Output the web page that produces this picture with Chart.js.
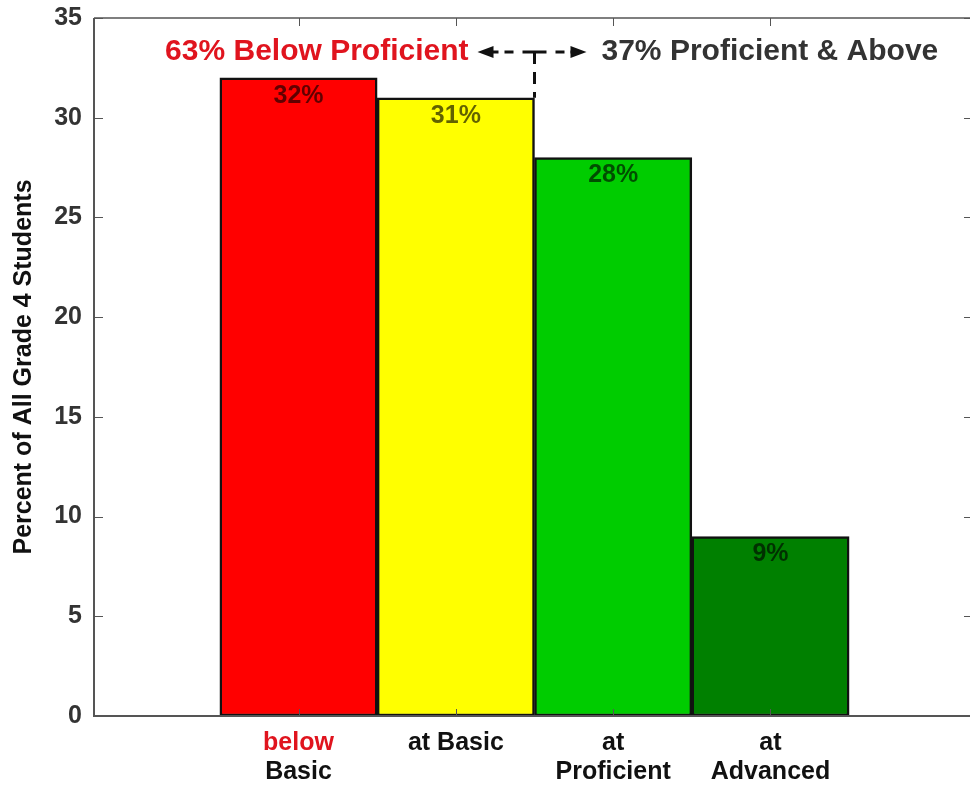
<!DOCTYPE html>
<html>
<head>
<meta charset="utf-8">
<script src="https://cdn.jsdelivr.net/npm/chart.js@4.4.0/dist/chart.umd.min.js"></script>
<style>
  html, body { margin: 0; padding: 0; background: #fff; overflow: hidden; }
  canvas { display: block; }
</style>
</head>
<body>
<canvas id="myChart" width="980" height="786"></canvas>
<script>
// data
const levels = [1, 2, 3, 4];
const percents = [32, 31, 28, 9];
const labelTop = ['below', 'at', 'at', 'at'];
const labelBottom = ['Basic', 'Basic', 'Proficient', 'Advanced'];
const yTicks = [0, 5, 10, 15, 20, 25, 30, 35];
const colors = ['#ff0000', '#ffff00', '#00cc00', '#008000'];

const FONT = '"Liberation Sans", Arial, sans-serif';
const ctx = document.getElementById('myChart');

// tick marks inside the frame + frame itself
const framePlugin = {
  id: 'frame',
  afterDraw(chart) {
    const c = chart.ctx, a = chart.chartArea;
    const x = chart.scales.x, y = chart.scales.y;
    c.save();
    c.strokeStyle = '#555';
    c.lineWidth = 1.5;
    c.beginPath();
    c.moveTo(a.left, a.top); c.lineTo(a.right, a.top);
    c.stroke();
    c.lineWidth = 2;
    c.beginPath();
    c.moveTo(a.left, a.top); c.lineTo(a.left, a.bottom); c.lineTo(a.right, a.bottom);
    c.stroke();
    c.lineWidth = 1;
    c.beginPath();
    yTicks.forEach(v => {
      const py = Math.round(y.getPixelForValue(v)) + 0.5;
      c.moveTo(a.left, py); c.lineTo(a.left + 9, py);
      c.moveTo(970, py); c.lineTo(964, py);
    });
    levels.forEach(v => {
      const px = Math.round(x.getPixelForValue(v)) + 0.5;
      c.moveTo(px, a.bottom); c.lineTo(px, a.bottom - 7);
      c.moveTo(px, a.top); c.lineTo(px, a.top + 8);
    });
    c.stroke();
    c.restore();
  }
};

// category labels under the axis
const catLabels = {
  id: 'catLabels',
  afterDraw(chart) {
    const c = chart.ctx, a = chart.chartArea, x = chart.scales.x;
    c.save();
    c.font = 'bold 25px ' + FONT;
    c.textAlign = 'center';
    c.textBaseline = 'middle';
    levels.forEach((v, i) => {
      const px = x.getPixelForValue(v);
      if (i === 1) {
        c.fillStyle = '#111';
        c.fillText(labelTop[i] + ' ' + labelBottom[i], px, a.bottom + 27);
        return;
      }
      c.fillStyle = i === 0 ? '#e0141e' : '#111';
      c.fillText(labelTop[i], px, a.bottom + 27);
      c.fillStyle = '#111';
      c.fillText(labelBottom[i], px, a.bottom + 56);
    });
    c.restore();
  }
};

// percent labels inside bars
const valueLabels = {
  id: 'valueLabels',
  afterDatasetsDraw(chart) {
    const c = chart.ctx;
    const meta = chart.getDatasetMeta(0);
    c.save();
    c.font = 'bold 25px ' + FONT;
    c.textAlign = 'center';
    c.textBaseline = 'middle';
    c.fillStyle = 'rgba(0,0,0,0.62)';
    meta.data.forEach((bar, i) => {
      c.fillText(percents[i] + '%', bar.x, bar.y + 18);
    });
    c.restore();
  }
};

// proficiency split annotation
const splitNote = {
  id: 'splitNote',
  afterDraw(chart) {
    const c = chart.ctx, x = chart.scales.x, y = chart.scales.y;
    const px = x.getPixelForValue(2.5);
    const py = y.getPixelForValue(33.3);
    const yb = y.getPixelForValue(percents[1]);
    c.save();
    c.font = 'bold 30px ' + FONT;
    c.textBaseline = 'middle';
    c.textAlign = 'right';
    c.fillStyle = '#e0141e';
    c.fillText('63% Below Proficient', px - 66, py);
    c.textAlign = 'left';
    c.fillStyle = '#333';
    c.fillText('37% Proficient & Above', px + 67, py);

    c.strokeStyle = '#111';
    c.fillStyle = '#111';
    c.lineWidth = 3;
    c.setLineDash([12, 8]);
    c.beginPath();
    c.moveTo(px, py); c.lineTo(px, yb);
    c.stroke();
    c.setLineDash([]);
    c.beginPath();
    c.moveTo(px - 12, py); c.lineTo(px + 12, py);
    c.moveTo(px - 21, py); c.lineTo(px - 30, py);
    c.moveTo(px + 21, py); c.lineTo(px + 30, py);
    c.moveTo(px - 36, py); c.lineTo(px - 44, py);
    c.moveTo(px + 36, py); c.lineTo(px + 42, py);
    c.stroke();
    c.beginPath();
    c.moveTo(px - 57, py); c.lineTo(px - 41, py - 6); c.lineTo(px - 41, py + 6); c.closePath();
    c.moveTo(px + 52, py); c.lineTo(px + 36, py - 6); c.lineTo(px + 36, py + 6); c.closePath();
    c.fill();
    c.restore();
  }
};

const chartData = {
  datasets: [{
    data: levels.map((v, i) => ({ x: v, y: percents[i] })),
    backgroundColor: colors,
    borderColor: '#111',
    borderWidth: 2.5,
    borderSkipped: false,
    barPercentage: 1,
    categoryPercentage: 1
  }]
};

new Chart(ctx, {
  type: 'bar',
  data: chartData,
  options: {
    responsive: false,
    animation: false,
    layout: { padding: { top: 18, right: 5, left: 0, bottom: 0 } },
    plugins: { legend: { display: false }, tooltip: { enabled: false } },
    scales: {
      x: {
        type: 'linear',
        offset: false,
        min: -0.3,
        max: 5.3,
        grid: { display: false, drawTicks: false },
        border: { display: false },
        ticks: { display: false },
        afterBuildTicks(s) { s.ticks = levels.map(v => ({ value: v })); },
        afterFit(s) { s.height = 70; s.paddingLeft = 0; s.paddingRight = 0; }
      },
      y: {
        min: 0,
        max: 35,
        grid: { display: false, drawTicks: false },
        border: { display: false },
        ticks: {
          stepSize: 5,
          padding: 12,
          color: '#333',
          font: { family: FONT, size: 25, weight: 'bold' }
        },
        title: {
          display: true,
          text: 'Percent of All Grade 4 Students',
          color: '#111',
          padding: { top: 9, bottom: 0 },
          font: { family: FONT, size: 25, weight: 'bold' }
        },
        afterFit(s) { s.width = 94; s.paddingTop = 0; s.paddingBottom = 0; }
      }
    }
  },
  plugins: [framePlugin, catLabels, valueLabels, splitNote]
});
</script>
</body>
</html>
